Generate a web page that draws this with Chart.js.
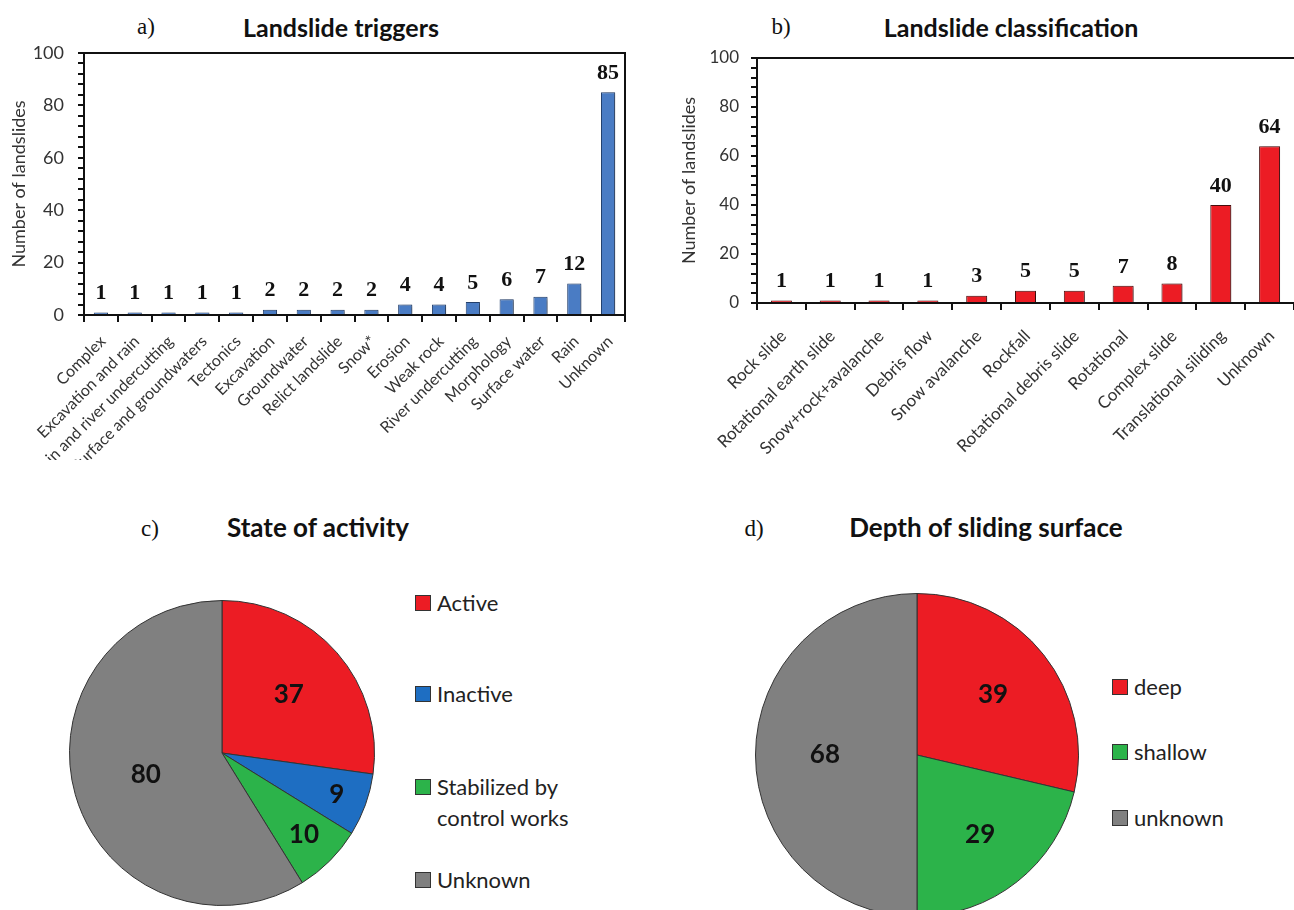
<!DOCTYPE html>
<html>
<head>
<meta charset="utf-8">
<script src="https://cdn.jsdelivr.net/npm/chart.js@4.4.1/dist/chart.umd.min.js"></script>
<style>
  body { margin: 0; background: #fff; }
  #page { position: relative; width: 1294px; height: 910px; overflow: hidden; background: #fff; }
  canvas { position: absolute; }
  .lbl { position: absolute; transform: translate(-50%, -50%); white-space: nowrap; color: #111; }
  .panel { font-family: "Liberation Serif", serif; font-size: 23px; }
  .ttl { font-family: Lato, sans-serif; font-weight: bold; font-size: 25px; }
  .ttl.big { font-size: 26px; }
  .leg { position: absolute; font-family: Lato, sans-serif; font-size: 22px; color: #222; line-height: 31px; white-space: pre-line; }
  .leg span.sq { position: absolute; left: -22px; top: 8px; width: 14px; height: 14px; border: 1px solid #333; }
</style>
</head>
<body>
<div id="page">
  <div class="lbl panel" style="left:146px;top:27px">a)</div>
  <div class="lbl ttl" style="left:341px;top:27px">Landslide triggers</div>
  <div class="lbl panel" style="left:781px;top:27px">b)</div>
  <div class="lbl ttl" style="left:1011px;top:27px">Landslide classification</div>
  <div class="lbl panel" style="left:150px;top:529px">c)</div>
  <div class="lbl ttl big" style="left:318px;top:527px">State of activity</div>
  <div class="lbl panel" style="left:754px;top:529px">d)</div>
  <div class="lbl ttl big" style="left:986px;top:527px">Depth of sliding surface</div>

  <canvas id="triggers" width="640" height="460" style="left:0;top:0"></canvas>
  <canvas id="classes" width="654" height="460" style="left:640px;top:0"></canvas>
  <canvas id="activity" width="306" height="306" style="left:69px;top:600px"></canvas>
  <canvas id="depth" width="324" height="324" style="left:755px;top:593px"></canvas>
  <div id="legActivity"></div>
  <div id="legDepth"></div>
</div>
<script>
// data
const triggerLabels = ['Complex', 'Excavation and rain', 'Rain and river undercutting', 'Surface and groundwaters',
  'Tectonics', 'Excavation', 'Groundwater', 'Relict landslide', 'Snow*', 'Erosion', 'Weak rock',
  'River undercutting', 'Morphology', 'Surface water', 'Rain', 'Unknown'];
const triggerCounts = [1, 1, 1, 1, 1, 2, 2, 2, 2, 4, 4, 5, 6, 7, 12, 85];

const classLabels = ['Rock slide', 'Rotational earth slide', 'Snow+rock+avalanche', 'Debris flow', 'Snow avalanche',
  'Rockfall', 'Rotational debris slide', 'Rotational', 'Complex slide', 'Translational siliding', 'Unknown'];
const classCounts = [1, 1, 1, 1, 3, 5, 5, 7, 8, 40, 64];

const activityLabels = ['Active', 'Inactive', 'Stabilized by\ncontrol works', 'Unknown'];
const activityCounts = [37, 9, 10, 80];

const depthLabels = ['deep', 'shallow', 'unknown'];
const depthCounts = [39, 29, 68];

const yMax = 100;

// colours
const RED = '#ec1c24';
const BLUE = '#4a7cc4';
const GREEN = '#2cb34a';
const GREY = '#808080';
const PIE_BLUE = '#1e6ec2';

// value labels over bars
const barValues = {
  id: 'barValues',
  afterDatasetsDraw(chart, args, opts) {
    const ctx = chart.ctx;
    const meta = chart.getDatasetMeta(0);
    const vals = chart.data.datasets[0].data;
    ctx.save();
    ctx.font = 'bold ' + opts.size + 'px "Liberation Serif", serif';
    ctx.fillStyle = '#111';
    ctx.textAlign = 'center';
    ctx.textBaseline = 'bottom';
    meta.data.forEach((bar, i) => {
      ctx.fillText(vals[i], bar.x, bar.y - opts.gap);
    });
    ctx.restore();
  }
};

// top / right frame lines of the plot box
const frame = {
  id: 'frame',
  afterDraw(chart, args, opts) {
    const { left, right, top, bottom } = chart.chartArea;
    const ctx = chart.ctx;
    ctx.save();
    ctx.strokeStyle = '#111';
    ctx.lineWidth = 2;
    ctx.beginPath();
    ctx.moveTo(left, top);
    ctx.lineTo(right, top);
    if (opts.right) ctx.lineTo(right, bottom);
    ctx.stroke();
    ctx.restore();
  }
};

// soft shadow on bars
const barShadow = {
  id: 'barShadow',
  beforeDatasetsDraw(chart) {
    const ctx = chart.ctx;
    ctx.save();
    ctx.shadowColor = 'rgba(0,0,0,0.35)';
    ctx.shadowOffsetX = 3;
    ctx.shadowOffsetY = 1;
    ctx.shadowBlur = 3;
  },
  afterDatasetsDraw(chart) {
    chart.ctx.restore();
  }
};

function barChart(id, labels, counts, color, edge, s) {
  return new Chart(document.getElementById(id), {
    type: 'bar',
    data: {
      labels,
      datasets: [{
        data: counts,
        backgroundColor: color,
        borderColor: edge,
        borderWidth: 1,
        barPercentage: s.bar,
        categoryPercentage: 1
      }]
    },
    options: {
      responsive: false,
      animation: false,
      layout: { padding: { top: s.top, right: s.right, left: 0, bottom: 0 } },
      plugins: {
        legend: { display: false },
        tooltip: { enabled: false },
        barValues: { size: s.valSize, gap: s.gap },
        frame: { right: s.frameRight }
      },
      scales: {
        x: {
          grid: { drawOnChartArea: false, drawTicks: true, tickLength: 7, lineWidth: 2, color: '#111', offset: true },
          border: { display: true, color: '#111', width: 2 },
          ticks: {
            autoSkip: false, minRotation: 45, maxRotation: 45, padding: s.xPad, labelOffset: s.xShift,
            color: '#333', font: { family: 'Lato', size: s.xSize }
          },
          afterFit(scale) {
            scale.height = s.xHeight;
            scale.paddingLeft = 0;
            scale.paddingRight = 0;
          }
        },
        y: {
          min: 0, max: yMax,
          grid: { drawOnChartArea: false, drawTicks: true, tickLength: 6, lineWidth: 2, color: '#111' },
          border: { display: true, color: '#111', width: 2 },
          ticks: {
            stepSize: 4, autoSkip: false, maxTicksLimit: 40, padding: s.tickPad,
            color: '#333', font: { family: 'Lato', size: s.ySize },
            callback: v => (v % 20 === 0 ? v : '')
          },
          title: {
            display: true, text: 'Number of landslides', color: '#333',
            font: { family: 'Lato', size: s.titleSize }, padding: { top: s.titlePad, bottom: 0 }
          },
          afterFit(scale) {
            scale.width = s.yWidth;
            scale.paddingTop = 0;
            scale.paddingBottom = 0;
          }
        }
      }
    },
    plugins: [barShadow, barValues, frame]
  });
}

barChart('triggers', triggerLabels, triggerCounts, BLUE, '#24416e', {
  bar: 0.42, top: 53, right: 15, xHeight: 145, yWidth: 84, tickPad: 14, xPad: 10, xShift: 2,
  xSize: 16, ySize: 18, titleSize: 18, titlePad: 8, valSize: 22, gap: 8, frameRight: true
});

barChart('classes', classLabels, classCounts, RED, '#4a0e0e', {
  bar: 0.43, top: 58, right: 0, xHeight: 157, yWidth: 117, tickPad: 12, xPad: 16, xShift: 2,
  xSize: 17, ySize: 17, titleSize: 18, titlePad: 38, valSize: 22, gap: 8, frameRight: false
});

// numbers inside pie slices
const sliceValues = {
  id: 'sliceValues',
  afterDatasetsDraw(chart, args, opts) {
    const ctx = chart.ctx;
    const meta = chart.getDatasetMeta(0);
    const vals = chart.data.datasets[0].data;
    ctx.save();
    ctx.font = 'bold 26px Lato, sans-serif';
    ctx.fillStyle = '#111';
    ctx.textAlign = 'center';
    ctx.textBaseline = 'middle';
    meta.data.forEach((arc, i) => {
      const mid = (arc.startAngle + arc.endAngle) / 2;
      const r = arc.outerRadius * opts.ratios[i];
      ctx.fillText(vals[i], arc.x + Math.cos(mid) * r, arc.y + Math.sin(mid) * r);
    });
    ctx.restore();
  }
};

function pieChart(id, labels, counts, colors, ratios) {
  return new Chart(document.getElementById(id), {
    type: 'pie',
    data: {
      labels,
      datasets: [{ data: counts, backgroundColor: colors, borderColor: '#333', borderWidth: 1 }]
    },
    options: {
      responsive: false,
      animation: false,
      layout: { padding: 0 },
      plugins: {
        legend: { display: false },
        tooltip: { enabled: false },
        sliceValues: { ratios }
      }
    },
    plugins: [sliceValues]
  });
}

pieChart('activity', activityLabels, activityCounts, [RED, PIE_BLUE, GREEN, GREY], [0.58, 0.8, 0.76, 0.52]);
pieChart('depth', depthLabels, depthCounts, [RED, GREEN, GREY], [0.6, 0.63, 0.57]);

// legends to the right of the pies
function legend(elId, labels, colors, left, tops) {
  const box = document.getElementById(elId);
  labels.forEach((txt, i) => {
    const d = document.createElement('div');
    d.className = 'leg';
    d.style.left = left + 'px';
    d.style.top = tops[i] + 'px';
    d.textContent = txt;
    const sq = document.createElement('span');
    sq.className = 'sq';
    sq.style.background = colors[i];
    d.appendChild(sq);
    box.appendChild(d);
  });
}
legend('legActivity', activityLabels, [RED, PIE_BLUE, GREEN, GREY], 437, [587, 678, 771, 864]);
legend('legDepth', depthLabels, [RED, GREEN, GREY], 1134, [671, 736, 802]);
</script>
</body>
</html>
